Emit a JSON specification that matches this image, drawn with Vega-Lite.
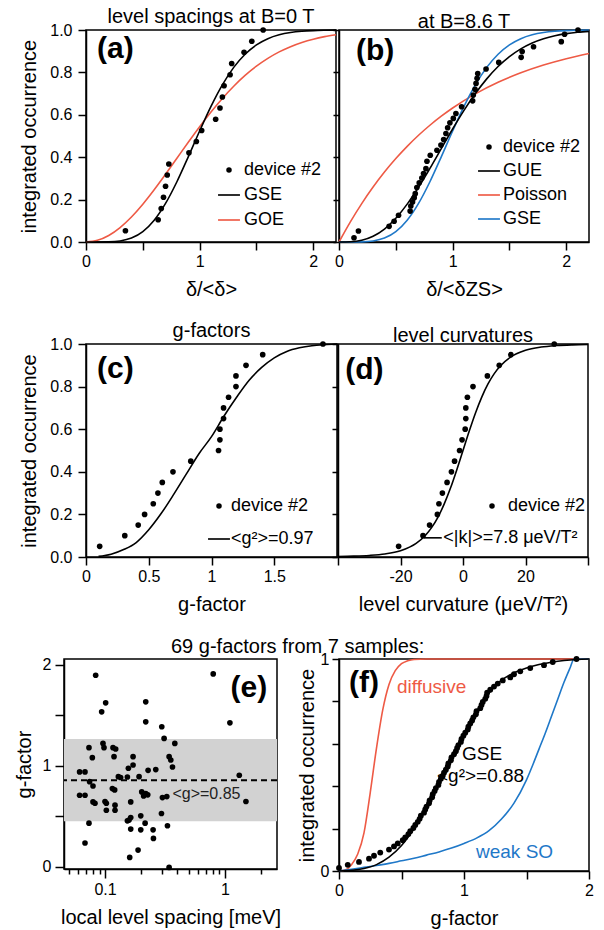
{
"$schema": "https://vega.github.io/schema/vega-lite/v6.json",
"background": "white",
"padding": {"left": 13, "top": 6, "right": 0, "bottom": 0},
"spacing": 20,
"resolve": {"scale": {"color": "independent", "shape": "independent"}, "legend": {"color": "independent", "shape": "independent"}},
"datasets": {
"a_pts": [
{"x":0.347,"y":0.053,"series":"device #2"},{"x":0.635,"y":0.105,"series":"device #2"},{"x":0.662,"y":0.158,"series":"device #2"},{"x":0.682,"y":0.211,"series":"device #2"},{"x":0.700,"y":0.263,"series":"device #2"},{"x":0.715,"y":0.316,"series":"device #2"},{"x":0.729,"y":0.368,"series":"device #2"},{"x":0.906,"y":0.421,"series":"device #2"},{"x":0.971,"y":0.474,"series":"device #2"},{"x":1.018,"y":0.526,"series":"device #2"},{"x":1.141,"y":0.579,"series":"device #2"},{"x":1.179,"y":0.632,"series":"device #2"},{"x":1.200,"y":0.684,"series":"device #2"},{"x":1.215,"y":0.737,"series":"device #2"},{"x":1.268,"y":0.789,"series":"device #2"},{"x":1.282,"y":0.842,"series":"device #2"},{"x":1.391,"y":0.895,"series":"device #2"},{"x":1.459,"y":0.947,"series":"device #2"},{"x":1.559,"y":1.0,"series":"device #2"}],
"a_curves": [
{"x":0,"y":0,"series":"GOE"},{"x":0.1,"y":0.0078,"series":"GOE"},{"x":0.2,"y":0.0309,"series":"GOE"},{"x":0.3,"y":0.0683,"series":"GOE"},{"x":0.4,"y":0.1181,"series":"GOE"},{"x":0.5,"y":0.1783,"series":"GOE"},{"x":0.6,"y":0.2463,"series":"GOE"},{"x":0.7,"y":0.3194,"series":"GOE"},{"x":0.8,"y":0.3951,"series":"GOE"},{"x":0.9,"y":0.4707,"series":"GOE"},{"x":1.0,"y":0.5441,"series":"GOE"},{"x":1.1,"y":0.6134,"series":"GOE"},{"x":1.2,"y":0.6773,"series":"GOE"},{"x":1.3,"y":0.7348,"series":"GOE"},{"x":1.4,"y":0.7855,"series":"GOE"},{"x":1.5,"y":0.8292,"series":"GOE"},{"x":1.6,"y":0.8661,"series":"GOE"},{"x":1.7,"y":0.8967,"series":"GOE"},{"x":1.8,"y":0.9215,"series":"GOE"},{"x":1.9,"y":0.9413,"series":"GOE"},{"x":2.0,"y":0.9568,"series":"GOE"},{"x":2.1,"y":0.9687,"series":"GOE"},{"x":2.2,"y":0.9777,"series":"GOE"},
{"x":0,"y":0,"series":"GSE"},{"x":0.1,"y":0.0,"series":"GSE"},{"x":0.2,"y":0.0007,"series":"GSE"},{"x":0.3,"y":0.0049,"series":"GSE"},{"x":0.4,"y":0.0184,"series":"GSE"},{"x":0.5,"y":0.0488,"series":"GSE"},{"x":0.6,"y":0.1024,"series":"GSE"},{"x":0.7,"y":0.1818,"series":"GSE"},{"x":0.8,"y":0.2842,"series":"GSE"},{"x":0.9,"y":0.4018,"series":"GSE"},{"x":1.0,"y":0.5237,"series":"GSE"},{"x":1.1,"y":0.6395,"series":"GSE"},{"x":1.2,"y":0.741,"series":"GSE"},{"x":1.3,"y":0.8236,"series":"GSE"},{"x":1.4,"y":0.8857,"series":"GSE"},{"x":1.5,"y":0.9299,"series":"GSE"},{"x":1.6,"y":0.9592,"series":"GSE"},{"x":1.7,"y":0.9774,"series":"GSE"},{"x":1.8,"y":0.9881,"series":"GSE"},{"x":1.9,"y":0.9941,"series":"GSE"},{"x":2.0,"y":0.9972,"series":"GSE"},{"x":2.1,"y":0.9987,"series":"GSE"},{"x":2.2,"y":0.9995,"series":"GSE"}],
"b_pts": [
{"x":0.132,"y":0.020,"series":"device #2"},{"x":0.171,"y":0.052,"series":"device #2"},{"x":0.441,"y":0.074,"series":"device #2"},{"x":0.485,"y":0.098,"series":"device #2"},{"x":0.524,"y":0.126,"series":"device #2"},{"x":0.626,"y":0.146,"series":"device #2"},{"x":0.632,"y":0.170,"series":"device #2"},{"x":0.647,"y":0.189,"series":"device #2"},{"x":0.662,"y":0.209,"series":"device #2"},{"x":0.671,"y":0.228,"series":"device #2"},{"x":0.685,"y":0.257,"series":"device #2"},{"x":0.706,"y":0.279,"series":"device #2"},{"x":0.729,"y":0.302,"series":"device #2"},{"x":0.744,"y":0.323,"series":"device #2"},{"x":0.765,"y":0.346,"series":"device #2"},{"x":0.774,"y":0.381,"series":"device #2"},{"x":0.803,"y":0.409,"series":"device #2"},{"x":0.862,"y":0.433,"series":"device #2"},{"x":0.897,"y":0.457,"series":"device #2"},{"x":0.921,"y":0.483,"series":"device #2"},{"x":0.941,"y":0.512,"series":"device #2"},{"x":0.956,"y":0.539,"series":"device #2"},{"x":0.976,"y":0.562,"series":"device #2"},{"x":1.006,"y":0.583,"series":"device #2"},{"x":1.029,"y":0.606,"series":"device #2"},{"x":1.079,"y":0.638,"series":"device #2"},{"x":1.176,"y":0.666,"series":"device #2"},{"x":1.182,"y":0.693,"series":"device #2"},{"x":1.197,"y":0.720,"series":"device #2"},{"x":1.206,"y":0.748,"series":"device #2"},{"x":1.215,"y":0.772,"series":"device #2"},{"x":1.221,"y":0.795,"series":"device #2"},{"x":1.294,"y":0.816,"series":"device #2"},{"x":1.406,"y":0.847,"series":"device #2"},{"x":1.603,"y":0.871,"series":"device #2"},{"x":1.612,"y":0.898,"series":"device #2"},{"x":1.712,"y":0.921,"series":"device #2"},{"x":1.956,"y":0.945,"series":"device #2"},{"x":1.985,"y":0.980,"series":"device #2"},{"x":2.103,"y":1.0,"series":"device #2"}],
"b_curves": [
{"x":0,"y":0,"series":"Poisson"},{"x":0.1,"y":0.0952,"series":"Poisson"},{"x":0.2,"y":0.1813,"series":"Poisson"},{"x":0.3,"y":0.2592,"series":"Poisson"},{"x":0.4,"y":0.3297,"series":"Poisson"},{"x":0.5,"y":0.3935,"series":"Poisson"},{"x":0.6,"y":0.4512,"series":"Poisson"},{"x":0.7,"y":0.5034,"series":"Poisson"},{"x":0.8,"y":0.5507,"series":"Poisson"},{"x":0.9,"y":0.5934,"series":"Poisson"},{"x":1.0,"y":0.6321,"series":"Poisson"},{"x":1.2,"y":0.6988,"series":"Poisson"},{"x":1.4,"y":0.7534,"series":"Poisson"},{"x":1.6,"y":0.7981,"series":"Poisson"},{"x":1.8,"y":0.8347,"series":"Poisson"},{"x":2.0,"y":0.8647,"series":"Poisson"},{"x":2.2,"y":0.8892,"series":"Poisson"},
{"x":0,"y":0,"series":"GSE"},{"x":0.1,"y":0.0,"series":"GSE"},{"x":0.2,"y":0.0007,"series":"GSE"},{"x":0.3,"y":0.0049,"series":"GSE"},{"x":0.4,"y":0.0184,"series":"GSE"},{"x":0.5,"y":0.0488,"series":"GSE"},{"x":0.6,"y":0.1024,"series":"GSE"},{"x":0.7,"y":0.1818,"series":"GSE"},{"x":0.8,"y":0.2842,"series":"GSE"},{"x":0.9,"y":0.4018,"series":"GSE"},{"x":1.0,"y":0.5237,"series":"GSE"},{"x":1.1,"y":0.6395,"series":"GSE"},{"x":1.2,"y":0.741,"series":"GSE"},{"x":1.3,"y":0.8236,"series":"GSE"},{"x":1.4,"y":0.8857,"series":"GSE"},{"x":1.5,"y":0.9299,"series":"GSE"},{"x":1.6,"y":0.9592,"series":"GSE"},{"x":1.7,"y":0.9774,"series":"GSE"},{"x":1.8,"y":0.9881,"series":"GSE"},{"x":1.9,"y":0.9941,"series":"GSE"},{"x":2.0,"y":0.9972,"series":"GSE"},{"x":2.1,"y":0.9987,"series":"GSE"},{"x":2.2,"y":0.9995,"series":"GSE"},
{"x":0,"y":0,"series":"GUE"},{"x":0.1,"y":0.0011,"series":"GUE"},{"x":0.2,"y":0.0084,"series":"GUE"},{"x":0.3,"y":0.0273,"series":"GUE"},{"x":0.4,"y":0.0613,"series":"GUE"},{"x":0.5,"y":0.112,"series":"GUE"},{"x":0.6,"y":0.1786,"series":"GUE"},{"x":0.7,"y":0.2584,"series":"GUE"},{"x":0.8,"y":0.3473,"series":"GUE"},{"x":0.9,"y":0.4405,"series":"GUE"},{"x":1.0,"y":0.5331,"series":"GUE"},{"x":1.1,"y":0.6207,"series":"GUE"},{"x":1.2,"y":0.7002,"series":"GUE"},{"x":1.3,"y":0.7695,"series":"GUE"},{"x":1.4,"y":0.8276,"series":"GUE"},{"x":1.5,"y":0.8745,"series":"GUE"},{"x":1.6,"y":0.9111,"series":"GUE"},{"x":1.7,"y":0.9388,"series":"GUE"},{"x":1.8,"y":0.9589,"series":"GUE"},{"x":1.9,"y":0.9732,"series":"GUE"},{"x":2.0,"y":0.9829,"series":"GUE"},{"x":2.1,"y":0.9894,"series":"GUE"},{"x":2.2,"y":0.9937,"series":"GUE"}],
"c_pts": [
{"x":0.109,"y":0.05,"series":"device #2"},{"x":0.309,"y":0.10,"series":"device #2"},{"x":0.416,"y":0.15,"series":"device #2"},{"x":0.467,"y":0.20,"series":"device #2"},{"x":0.536,"y":0.25,"series":"device #2"},{"x":0.573,"y":0.30,"series":"device #2"},{"x":0.608,"y":0.35,"series":"device #2"},{"x":0.693,"y":0.40,"series":"device #2"},{"x":0.835,"y":0.45,"series":"device #2"},{"x":1.056,"y":0.50,"series":"device #2"},{"x":1.067,"y":0.55,"series":"device #2"},{"x":1.067,"y":0.60,"series":"device #2"},{"x":1.096,"y":0.65,"series":"device #2"},{"x":1.096,"y":0.70,"series":"device #2"},{"x":1.136,"y":0.75,"series":"device #2"},{"x":1.195,"y":0.80,"series":"device #2"},{"x":1.195,"y":0.85,"series":"device #2"},{"x":1.275,"y":0.90,"series":"device #2"},{"x":1.408,"y":0.95,"series":"device #2"},{"x":1.888,"y":1.0,"series":"device #2"}],
"c_curve": [
{"x":0.1,"y":0.003,"series":"<g²>=0.97"},{"x":0.15,"y":0.007,"series":"<g²>=0.97"},{"x":0.2,"y":0.013,"series":"<g²>=0.97"},{"x":0.3,"y":0.035,"series":"<g²>=0.97"},{"x":0.4,"y":0.068,"series":"<g²>=0.97"},{"x":0.5,"y":0.128,"series":"<g²>=0.97"},{"x":0.6,"y":0.205,"series":"<g²>=0.97"},{"x":0.7,"y":0.295,"series":"<g²>=0.97"},{"x":0.8,"y":0.39,"series":"<g²>=0.97"},{"x":0.9,"y":0.485,"series":"<g²>=0.97"},{"x":1.0,"y":0.565,"series":"<g²>=0.97"},{"x":1.1,"y":0.662,"series":"<g²>=0.97"},{"x":1.2,"y":0.75,"series":"<g²>=0.97"},{"x":1.3,"y":0.83,"series":"<g²>=0.97"},{"x":1.4,"y":0.89,"series":"<g²>=0.97"},{"x":1.5,"y":0.935,"series":"<g²>=0.97"},{"x":1.6,"y":0.965,"series":"<g²>=0.97"},{"x":1.7,"y":0.982,"series":"<g²>=0.97"},{"x":1.8,"y":0.992,"series":"<g²>=0.97"},{"x":1.9,"y":0.997,"series":"<g²>=0.97"},{"x":2.0,"y":1.0,"series":"<g²>=0.97"}],
"d_pts": [
{"x":-20.6,"y":0.05,"series":"device #2"},{"x":-12.8,"y":0.10,"series":"device #2"},{"x":-10.7,"y":0.15,"series":"device #2"},{"x":-8.2,"y":0.20,"series":"device #2"},{"x":-7.7,"y":0.25,"series":"device #2"},{"x":-6.6,"y":0.30,"series":"device #2"},{"x":-5.1,"y":0.35,"series":"device #2"},{"x":-3.7,"y":0.40,"series":"device #2"},{"x":-2.7,"y":0.45,"series":"device #2"},{"x":-1.1,"y":0.50,"series":"device #2"},{"x":-0.3,"y":0.55,"series":"device #2"},{"x":0.7,"y":0.60,"series":"device #2"},{"x":0.9,"y":0.65,"series":"device #2"},{"x":0.9,"y":0.70,"series":"device #2"},{"x":1.4,"y":0.75,"series":"device #2"},{"x":3.2,"y":0.80,"series":"device #2"},{"x":7.8,"y":0.85,"series":"device #2"},{"x":11.6,"y":0.90,"series":"device #2"},{"x":15.3,"y":0.95,"series":"device #2"},{"x":29.2,"y":1.0,"series":"device #2"}],
"d_curve": [
{"x":-40,"y":0.0022},{"x":-35,"y":0.004},{"x":-30,"y":0.0074},{"x":-25,"y":0.0143},{"x":-20,"y":0.0295},{"x":-15,"y":0.0639},{"x":-12,"y":0.1021},{"x":-10,"y":0.139},{"x":-8,"y":0.1876},{"x":-6,"y":0.2491},{"x":-4,"y":0.3235},{"x":-2,"y":0.4087},{"x":0,"y":0.5},{"x":2,"y":0.5913},{"x":4,"y":0.6765},{"x":6,"y":0.7509},{"x":8,"y":0.8124},{"x":10,"y":0.861},{"x":12,"y":0.8979},{"x":15,"y":0.9361},{"x":20,"y":0.9705},{"x":25,"y":0.9857},{"x":30,"y":0.9926},{"x":35,"y":0.996},{"x":40,"y":0.9978}],
"e_pts": [
{"x":0.0836,"y":1.895},{"x":0.799,"y":1.908},{"x":0.1013,"y":1.622},{"x":0.0938,"y":1.533},{"x":0.2187,"y":1.632},{"x":0.2187,"y":1.434},{"x":1.101,"y":1.424},{"x":0.2975,"y":1.385},{"x":0.3112,"y":1.27},{"x":0.3822,"y":1.22},{"x":0.0962,"y":1.22},{"x":0.0981,"y":1.178},{"x":0.0735,"y":1.178},{"x":0.1166,"y":1.178},{"x":0.1228,"y":1.165},{"x":0.0784,"y":1.079},{"x":0.1189,"y":1.089},{"x":0.1714,"y":1.089},{"x":0.3426,"y":1.089},{"x":0.3538,"y":1.056},{"x":0.3654,"y":0.987},{"x":0.1567,"y":0.974},{"x":0.1714,"y":1.007},{"x":0.2288,"y":0.954},{"x":0.2651,"y":0.961},{"x":0.1537,"y":0.888},{"x":0.1292,"y":0.891},{"x":0.1924,"y":0.891},{"x":1.318,"y":0.905},{"x":0.0614,"y":0.938},{"x":0.0681,"y":0.938},{"x":0.0744,"y":0.842},{"x":0.0794,"y":0.799},{"x":0.1152,"y":0.773},{"x":0.1204,"y":0.76},{"x":0.2025,"y":0.74},{"x":0.2187,"y":0.724},{"x":0.2273,"y":0.711},{"x":0.0614,"y":0.707},{"x":0.0681,"y":0.707},{"x":0.3013,"y":0.684},{"x":0.3276,"y":0.694},{"x":0.0794,"y":0.641},{"x":0.0825,"y":0.628},{"x":0.1,"y":0.645},{"x":0.1026,"y":0.628},{"x":0.1639,"y":0.641},{"x":1.498,"y":0.645},{"x":0.1026,"y":0.559},{"x":0.1212,"y":0.609},{"x":0.1212,"y":0.559},{"x":0.2957,"y":0.526},{"x":0.1987,"y":0.503},{"x":0.1639,"y":0.487},{"x":0.1587,"y":0.461},{"x":0.1537,"y":0.454},{"x":0.0735,"y":0.431},{"x":0.216,"y":0.431},{"x":0.3318,"y":0.405},{"x":0.1639,"y":0.372},{"x":0.1987,"y":0.365},{"x":0.2518,"y":0.365},{"x":0.2535,"y":0.28},{"x":0.0681,"y":0.234},{"x":0.1887,"y":0.164},{"x":0.1607,"y":0.092},{"x":0.3426,"y":-0.007},{"x":0.135,"y":0.883},{"x":0.21,"y":0.7}],
"f_pts": [
{"x":0.0,"y":0.0145},{"x":0.07,"y":0.029},{"x":0.16,"y":0.043},{"x":0.24,"y":0.058},{"x":0.28,"y":0.072},{"x":0.33,"y":0.087},{"x":0.40,"y":0.101},{"x":0.44,"y":0.116},{"x":0.47,"y":0.130},{"x":0.51,"y":0.145},{"x":0.53,"y":0.159},{"x":0.555,"y":0.174},{"x":0.57,"y":0.188},{"x":0.595,"y":0.203},{"x":0.61,"y":0.217},{"x":0.63,"y":0.232},{"x":0.645,"y":0.246},{"x":0.655,"y":0.261},{"x":0.68,"y":0.275},{"x":0.69,"y":0.290},{"x":0.70,"y":0.304},{"x":0.72,"y":0.319},{"x":0.725,"y":0.333},{"x":0.745,"y":0.348},{"x":0.75,"y":0.362},{"x":0.765,"y":0.377},{"x":0.775,"y":0.391},{"x":0.795,"y":0.406},{"x":0.80,"y":0.420},{"x":0.815,"y":0.435},{"x":0.83,"y":0.449},{"x":0.84,"y":0.464},{"x":0.855,"y":0.478},{"x":0.87,"y":0.493},{"x":0.875,"y":0.507},{"x":0.895,"y":0.522},{"x":0.90,"y":0.536},{"x":0.92,"y":0.551},{"x":0.935,"y":0.565},{"x":0.945,"y":0.580},{"x":0.955,"y":0.594},{"x":0.975,"y":0.609},{"x":0.98,"y":0.623},{"x":0.995,"y":0.638},{"x":1.01,"y":0.652},{"x":1.03,"y":0.667},{"x":1.035,"y":0.681},{"x":1.05,"y":0.696},{"x":1.065,"y":0.710},{"x":1.075,"y":0.725},{"x":1.095,"y":0.739},{"x":1.10,"y":0.754},{"x":1.13,"y":0.768},{"x":1.14,"y":0.783},{"x":1.15,"y":0.797},{"x":1.17,"y":0.812},{"x":1.18,"y":0.826},{"x":1.185,"y":0.841},{"x":1.21,"y":0.855},{"x":1.24,"y":0.870},{"x":1.27,"y":0.884},{"x":1.31,"y":0.899},{"x":1.37,"y":0.913},{"x":1.40,"y":0.928},{"x":1.45,"y":0.942},{"x":1.53,"y":0.957},{"x":1.64,"y":0.971},{"x":1.71,"y":0.986},{"x":1.9,"y":1.0}],
"f_curves": [
{"x":0,"y":0,"series":"diffusive"},{"x":0.05,"y":0.005,"series":"diffusive"},{"x":0.1,"y":0.03,"series":"diffusive"},{"x":0.15,"y":0.08,"series":"diffusive"},{"x":0.2,"y":0.18,"series":"diffusive"},{"x":0.25,"y":0.37,"series":"diffusive"},{"x":0.3,"y":0.58,"series":"diffusive"},{"x":0.35,"y":0.76,"series":"diffusive"},{"x":0.4,"y":0.88,"series":"diffusive"},{"x":0.45,"y":0.945,"series":"diffusive"},{"x":0.5,"y":0.978,"series":"diffusive"},{"x":0.55,"y":0.992,"series":"diffusive"},{"x":0.6,"y":0.998,"series":"diffusive"},{"x":0.7,"y":1.0,"series":"diffusive"},{"x":1.0,"y":1.0,"series":"diffusive"},{"x":1.5,"y":1.0,"series":"diffusive"},{"x":2.0,"y":1.0,"series":"diffusive"},
{"x":0,"y":0,"series":"weak SO"},{"x":0.1,"y":0.008,"series":"weak SO"},{"x":0.2,"y":0.017,"series":"weak SO"},{"x":0.3,"y":0.026,"series":"weak SO"},{"x":0.4,"y":0.036,"series":"weak SO"},{"x":0.5,"y":0.048,"series":"weak SO"},{"x":0.6,"y":0.06,"series":"weak SO"},{"x":0.7,"y":0.075,"series":"weak SO"},{"x":0.8,"y":0.09,"series":"weak SO"},{"x":0.9,"y":0.108,"series":"weak SO"},{"x":1.0,"y":0.13,"series":"weak SO"},{"x":1.1,"y":0.155,"series":"weak SO"},{"x":1.2,"y":0.19,"series":"weak SO"},{"x":1.3,"y":0.245,"series":"weak SO"},{"x":1.4,"y":0.32,"series":"weak SO"},{"x":1.5,"y":0.43,"series":"weak SO"},{"x":1.55,"y":0.5,"series":"weak SO"},{"x":1.6,"y":0.575,"series":"weak SO"},{"x":1.65,"y":0.65,"series":"weak SO"},{"x":1.7,"y":0.73,"series":"weak SO"},{"x":1.75,"y":0.81,"series":"weak SO"},{"x":1.8,"y":0.89,"series":"weak SO"},{"x":1.85,"y":0.96,"series":"weak SO"},{"x":1.88,"y":1.0,"series":"weak SO"},{"x":2.0,"y":1.0,"series":"weak SO"},
{"x":0,"y":0,"series":"GSE"},{"x":0.1,"y":0.003,"series":"GSE"},{"x":0.2,"y":0.012,"series":"GSE"},{"x":0.3,"y":0.03,"series":"GSE"},{"x":0.4,"y":0.065,"series":"GSE"},{"x":0.5,"y":0.12,"series":"GSE"},{"x":0.6,"y":0.2,"series":"GSE"},{"x":0.7,"y":0.3,"series":"GSE"},{"x":0.8,"y":0.415,"series":"GSE"},{"x":0.9,"y":0.53,"series":"GSE"},{"x":1.0,"y":0.64,"series":"GSE"},{"x":1.1,"y":0.75,"series":"GSE"},{"x":1.2,"y":0.84,"series":"GSE"},{"x":1.3,"y":0.9,"series":"GSE"},{"x":1.4,"y":0.935,"series":"GSE"},{"x":1.5,"y":0.958,"series":"GSE"},{"x":1.6,"y":0.974,"series":"GSE"},{"x":1.7,"y":0.985,"series":"GSE"},{"x":1.8,"y":0.993,"series":"GSE"},{"x":1.9,"y":0.998,"series":"GSE"},{"x":2.0,"y":1.0,"series":"GSE"}]
},
"vconcat": [
{"bounds": "flush", "spacing": 3,
 "resolve": {"scale": {"color": "independent", "shape": "independent"}, "legend": {"color": "independent", "shape": "independent"}},
 "hconcat": [
 {"width": 19, "height": 212, "view": {"stroke": null}, "data": {"values": [{}]}, "mark": {"type": "point", "opacity": 0}, "encoding": {}},
 {"width": 250, "height": 212,
  "title": {"text": "level spacings at B=0 T"},
  "layer": [
   {"data": {"name": "a_curves"}, "mark": {"type": "line", "strokeWidth": 1.6, "interpolate": "monotone"},
    "encoding": {
     "x": {"field": "x", "type": "quantitative", "scale": {"domain": [0, 2.2], "nice": false, "zero": false}, "axis": {"values": [0, 0.5, 1, 1.5, 2], "labelExpr": "datum.value % 1 == 0 ? format(datum.value, 'd') : ''", "title": "δ/<δ>"}},
     "y": {"field": "y", "type": "quantitative", "scale": {"domain": [0, 1], "nice": false}, "axis": {"values": [0, 0.2, 0.4, 0.6, 0.8, 1], "format": ".1f", "title": "integrated occurrence"}},
     "color": {"field": "series", "type": "nominal", "scale": {"domain": ["device #2", "GSE", "GOE"], "range": ["black", "black", "#ee5a45"]}, "legend": {"title": null, "orient": "none", "legendX": 134, "legendY": 131, "rowPadding": 7, "labelOffset": 6}}}},
   {"data": {"name": "a_pts"}, "mark": {"type": "point", "filled": true, "opacity": 1, "size": 32},
    "encoding": {
     "x": {"field": "x", "type": "quantitative"},
     "y": {"field": "y", "type": "quantitative"},
     "color": {"field": "series", "type": "nominal", "legend": {"title": null, "orient": "none", "legendX": 134, "legendY": 131, "rowPadding": 7, "labelOffset": 6}},
     "shape": {"field": "series", "type": "nominal", "scale": {"domain": ["device #2", "GSE", "GOE"], "range": ["circle", "M-4,-0.3H4V0.3H-4Z", "M-4,-0.3H4V0.3H-4Z"]}, "legend": {"title": null, "orient": "none", "legendX": 134, "legendY": 131, "rowPadding": 7, "labelOffset": 6}}}},
   {"data": {"values": [{}]}, "mark": {"type": "text", "fontSize": 30, "fontWeight": "bold", "align": "left", "baseline": "middle"},
    "encoding": {"x": {"datum": 0.097}, "y": {"datum": 0.91}, "text": {"value": "(a)"}}}
  ]},
 {"width": 250, "height": 212,
  "title": {"text": "at B=8.6 T"},
  "layer": [
   {"data": {"name": "b_curves"}, "mark": {"type": "line", "strokeWidth": 1.6, "interpolate": "monotone"},
    "encoding": {
     "x": {"field": "x", "type": "quantitative", "scale": {"domain": [0, 2.2], "nice": false, "zero": false}, "axis": {"values": [0, 0.5, 1, 1.5, 2], "labelExpr": "datum.value % 1 == 0 ? format(datum.value, 'd') : ''", "title": "δ/<δZS>"}},
     "y": {"field": "y", "type": "quantitative", "scale": {"domain": [0, 1], "nice": false}, "axis": {"values": [0, 0.2, 0.4, 0.6, 0.8, 1], "labels": false, "title": null, "tickSize": 6}},
     "color": {"field": "series", "type": "nominal", "scale": {"domain": ["device #2", "GUE", "Poisson", "GSE"], "range": ["black", "black", "#ee5a45", "#1f78c8"]}, "legend": {"title": null, "orient": "none", "legendX": 141, "legendY": 108, "rowPadding": 6, "labelOffset": 5}}}},
   {"data": {"name": "b_pts"}, "mark": {"type": "point", "filled": true, "opacity": 1, "size": 32},
    "encoding": {
     "x": {"field": "x", "type": "quantitative"},
     "y": {"field": "y", "type": "quantitative"},
     "color": {"field": "series", "type": "nominal", "legend": {"title": null, "orient": "none", "legendX": 141, "legendY": 108, "rowPadding": 6, "labelOffset": 5}},
     "shape": {"field": "series", "type": "nominal", "scale": {"domain": ["device #2", "GUE", "Poisson", "GSE"], "range": ["circle", "M-4,-0.3H4V0.3H-4Z", "M-4,-0.3H4V0.3H-4Z", "M-4,-0.3H4V0.3H-4Z"]}, "legend": {"title": null, "orient": "none", "legendX": 141, "legendY": 108, "rowPadding": 6, "labelOffset": 5}}}},
   {"data": {"values": [{}]}, "mark": {"type": "text", "fontSize": 30, "fontWeight": "bold", "align": "left", "baseline": "middle"},
    "encoding": {"x": {"datum": 0.15}, "y": {"datum": 0.9}, "text": {"value": "(b)"}}}
  ]}
 ]},
{"bounds": "flush", "spacing": 1,
 "resolve": {"scale": {"color": "independent", "shape": "independent"}, "legend": {"color": "independent", "shape": "independent"}},
 "hconcat": [
 {"width": 21, "height": 213, "view": {"stroke": null}, "data": {"values": [{}]}, "mark": {"type": "point", "opacity": 0}, "encoding": {}},
 {"width": 251, "height": 213,
  "title": {"text": "g-factors"},
  "layer": [
   {"data": {"name": "c_curve"}, "mark": {"type": "line", "strokeWidth": 1.6, "interpolate": "monotone"},
    "encoding": {
     "x": {"field": "x", "type": "quantitative", "scale": {"domain": [0, 2], "nice": false, "zero": false}, "axis": {"values": [0, 0.5, 1, 1.5], "format": "~g", "title": "g-factor"}},
     "y": {"field": "y", "type": "quantitative", "scale": {"domain": [0, 1], "nice": false}, "axis": {"values": [0, 0.2, 0.4, 0.6, 0.8, 1], "format": ".1f", "title": "integrated occurrence"}},
     "color": {"field": "series", "type": "nominal", "scale": {"domain": ["device #2", "<g²>=0.97"], "range": ["black", "black"]}, "legend": {"title": null, "orient": "none", "legendX": 124, "legendY": 153, "rowPadding": 15, "labelOffset": 3}}}},
   {"data": {"name": "c_pts"}, "mark": {"type": "point", "filled": true, "opacity": 1, "size": 32},
    "encoding": {
     "x": {"field": "x", "type": "quantitative"},
     "y": {"field": "y", "type": "quantitative"},
     "color": {"field": "series", "type": "nominal", "legend": {"title": null, "orient": "none", "legendX": 124, "legendY": 153, "rowPadding": 15, "labelOffset": 3}},
     "shape": {"field": "series", "type": "nominal", "scale": {"domain": ["device #2", "<g²>=0.97"], "range": ["circle", "M-4,-0.3H4V0.3H-4Z"]}, "legend": {"title": null, "orient": "none", "legendX": 124, "legendY": 153, "rowPadding": 15, "labelOffset": 3}}}},
   {"data": {"values": [{}]}, "mark": {"type": "text", "fontSize": 30, "fontWeight": "bold", "align": "left", "baseline": "middle"},
    "encoding": {"x": {"datum": 0.088}, "y": {"datum": 0.883}, "text": {"value": "(c)"}}}
  ]},
 {"width": 250, "height": 213,
  "title": {"text": "level curvatures"},
  "layer": [
   {"data": {"name": "d_curve"}, "mark": {"type": "line", "strokeWidth": 1.6, "interpolate": "monotone", "color": "black"},
    "encoding": {
     "x": {"field": "x", "type": "quantitative", "scale": {"domain": [-40, 40], "nice": false, "zero": false}, "axis": {"values": [-40, -20, 0, 20, 40], "labelExpr": "datum.value == -20 ? '-20' : datum.value == 0 ? '0' : datum.value == 20 ? '20' : ''", "title": "level curvature (μeV/T²)"}},
     "y": {"field": "y", "type": "quantitative", "scale": {"domain": [0, 1], "nice": false}, "axis": {"values": [0, 0.2, 0.4, 0.6, 0.8, 1], "labels": false, "title": null, "tickSize": 6}}}},
   {"data": {"name": "d_pts"}, "mark": {"type": "point", "filled": true, "opacity": 1, "size": 32},
    "encoding": {
     "x": {"field": "x", "type": "quantitative"},
     "y": {"field": "y", "type": "quantitative"},
     "color": {"field": "series", "type": "nominal", "scale": {"domain": ["device #2"], "range": ["black"]}, "legend": {"title": null, "orient": "none", "legendX": 145, "legendY": 153, "labelOffset": 7}},
     "shape": {"field": "series", "type": "nominal", "scale": {"domain": ["device #2"], "range": ["circle"]}, "legend": {"title": null, "orient": "none", "legendX": 145, "legendY": 153, "labelOffset": 7}}}},
   {"data": {"values": [{}]}, "mark": {"type": "rule", "strokeWidth": 1.6, "color": "black"},
    "encoding": {"x": {"datum": -12.5}, "x2": {"datum": -6.8}, "y": {"datum": 0.09}}},
   {"data": {"values": [{}]}, "mark": {"type": "text", "fontSize": 18, "align": "left", "baseline": "middle"},
    "encoding": {"x": {"datum": -6.3}, "y": {"datum": 0.09}, "text": {"value": "<|k|>=7.8 μeV/T²"}}},
   {"data": {"values": [{}]}, "mark": {"type": "text", "fontSize": 30, "fontWeight": "bold", "align": "left", "baseline": "middle"},
    "encoding": {"x": {"datum": -37.7}, "y": {"datum": 0.88}, "text": {"value": "(d)"}}}
  ]}
 ]},
{"bounds": "flush", "spacing": 62,
 "hconcat": [
 {"width": 213, "height": 210,
  "title": {"text": "69 g-factors from 7 samples:", "anchor": "start", "frame": "group", "dx": 107, "offset": 0},
  "layer": [
   {"data": {"values": [{}]}, "mark": {"type": "rect", "color": "#d2d2d2"},
    "encoding": {"y": {"datum": 0.45}, "y2": {"datum": 1.265}}},
   {"data": {"values": [{}]}, "mark": {"type": "rule", "strokeDash": [6, 4], "strokeWidth": 2, "color": "black"},
    "encoding": {"y": {"datum": 0.855}}},
   {"data": {"name": "e_pts"}, "mark": {"type": "point", "filled": true, "opacity": 1, "size": 32, "color": "black"},
    "encoding": {
     "x": {"field": "x", "type": "quantitative", "scale": {"type": "log", "domain": [0.0455, 2.72], "nice": false}, "axis": {"values": [0.05, 0.06, 0.07, 0.08, 0.09, 0.1, 0.2, 0.3, 0.4, 0.5, 0.6, 0.7, 0.8, 0.9, 1, 2], "labelExpr": "datum.value == 0.1 ? '0.1' : datum.value == 1 ? '1' : ''", "tickSize": {"condition": {"test": "datum.value == 0.1 || datum.value == 1", "value": 9}, "value": 5}, "title": "local level spacing [meV]"}},
     "y": {"field": "y", "type": "quantitative", "scale": {"domain": [-0.023, 2.056], "nice": false, "zero": false}, "axis": {"values": [0, 0.5, 1, 1.5, 2], "labelExpr": "datum.value % 1 == 0 ? format(datum.value, 'd') : ''", "tickSize": 9, "labelPadding": 4, "titlePadding": 8, "title": "g-factor"}}}},
   {"data": {"values": [{}]}, "mark": {"type": "text", "fontSize": 16, "align": "left", "baseline": "middle", "color": "#222222"},
    "encoding": {"x": {"datum": 0.365}, "y": {"datum": 0.72}, "text": {"value": "<g>=0.85"}}},
   {"data": {"values": [{}]}, "mark": {"type": "text", "fontSize": 30, "fontWeight": "bold", "align": "right", "baseline": "middle"},
    "encoding": {"x": {"datum": 2.25}, "y": {"datum": 1.77}, "text": {"value": "(e)"}}}
  ]},
 {"width": 250, "height": 212,
  "layer": [
   {"data": {"name": "f_curves"}, "mark": {"type": "line", "strokeWidth": 1.6, "interpolate": "monotone"},
    "encoding": {
     "x": {"field": "x", "type": "quantitative", "scale": {"domain": [0, 2], "nice": false, "zero": false}, "axis": {"values": [0, 0.5, 1, 1.5, 2], "labelExpr": "datum.value % 1 == 0 ? format(datum.value, 'd') : ''", "title": "g-factor"}},
     "y": {"field": "y", "type": "quantitative", "scale": {"domain": [0, 1], "nice": false}, "axis": {"values": [0, 0.2, 0.4, 0.6, 0.8, 1], "labelExpr": "datum.value == 0 ? '0' : datum.value == 1 ? '1' : ''", "tickSize": 7, "labelPadding": 3, "titlePadding": 3, "title": "integrated occurrence"}},
     "color": {"field": "series", "type": "nominal", "scale": {"domain": ["diffusive", "weak SO", "GSE"], "range": ["#ee5a45", "#1f78c8", "black"]}, "legend": null}}},
   {"data": {"name": "f_pts"}, "mark": {"type": "point", "filled": true, "opacity": 1, "size": 34, "color": "black"},
    "encoding": {"x": {"field": "x", "type": "quantitative"}, "y": {"field": "y", "type": "quantitative"}}},
   {"data": {"values": [{}]}, "mark": {"type": "text", "fontSize": 30, "fontWeight": "bold", "align": "left", "baseline": "middle"},
    "encoding": {"x": {"datum": 0.08}, "y": {"datum": 0.887}, "text": {"value": "(f)"}}},
   {"data": {"values": [{}]}, "mark": {"type": "text", "fontSize": 19, "align": "left", "baseline": "middle", "color": "#ee5a45"},
    "encoding": {"x": {"datum": 0.464}, "y": {"datum": 0.868}, "text": {"value": "diffusive"}}},
   {"data": {"values": [{}]}, "mark": {"type": "text", "fontSize": 19, "align": "left", "baseline": "middle"},
    "encoding": {"x": {"datum": 0.984}, "y": {"datum": 0.552}, "text": {"value": "GSE"}}},
   {"data": {"values": [{}]}, "mark": {"type": "text", "fontSize": 19, "align": "left", "baseline": "middle"},
    "encoding": {"x": {"datum": 0.784}, "y": {"datum": 0.448}, "text": {"value": "<g²>=0.88"}}},
   {"data": {"values": [{}]}, "mark": {"type": "text", "fontSize": 19, "align": "left", "baseline": "middle", "color": "#1f78c8"},
    "encoding": {"x": {"datum": 1.096}, "y": {"datum": 0.09}, "text": {"value": "weak SO"}}}
  ]}
 ]}
],
"config": {
 "font": "Liberation Sans",
 "view": {"stroke": "black", "strokeWidth": 1.5},
 "axis": {"grid": false, "domainColor": "black", "domainWidth": 1.5, "tickColor": "black", "tickWidth": 1.5, "tickSize": 8, "labelFontSize": 16, "labelColor": "black", "titleFontSize": 20, "titleFontWeight": "normal", "titleColor": "black", "labelFlush": false, "labelOverlap": false, "labelPadding": 3},
 "axisY": {"labelPadding": 6, "titlePadding": 10},
 "axisX": {"titlePadding": 10},
 "title": {"fontSize": 20, "fontWeight": "normal", "color": "black", "offset": -5},
 "legend": {"labelFontSize": 18, "labelColor": "black", "symbolSize": 30, "padding": 0, "symbolStrokeWidth": 0}
}
}
